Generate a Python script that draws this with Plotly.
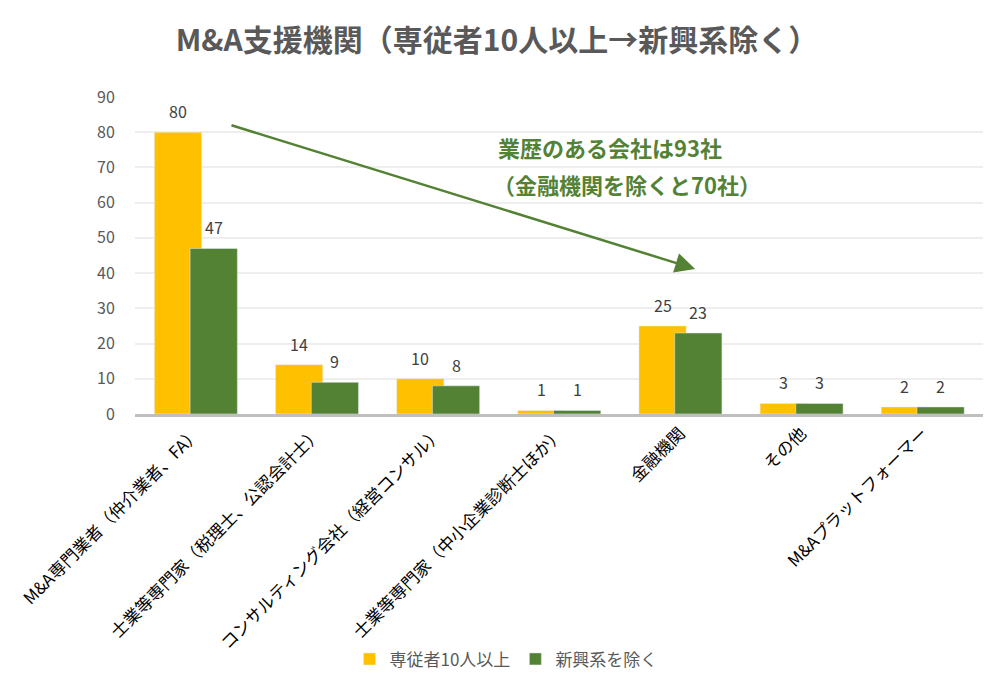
import plotly.graph_objects as go

categories = ["M&A専門業者（仲介業者、FA）", "士業等専門家（税理士、公認会計士）",
              "コンサルティング会社（経営コンサル）", "士業等専門家（中小企業診断士ほか）",
              "金融機関", "その他", "M&Aプラットフォーマー"]
series_names = ["専従者10人以上", "新興系を除く"]
vals_all = [80, 14, 10, 1, 25, 3, 2]
vals_excl = [47, 9, 8, 1, 23, 3, 2]
y_ticks = [0, 10, 20, 30, 40, 50, 60, 70, 80, 90]

title_text = "M&A支援機関（専従者10人以上→新興系除く）"
note_line1 = "業歴のある会社は93社"
note_line2 = "（金融機関を除くと70社）"

FONT = "Noto Sans CJK JP"
ORANGE = "#FFC000"
GREEN = "#548235"

W, H = 991, 681
L, R, T, B = 127, 16, 89, 273
plot_w = W - L - R
cat_px = plot_w / len(categories)

BAR_W = 0.39
OFF_A = -0.34
OFF_B = -0.045

fig = go.Figure()
fig.add_trace(go.Bar(x=categories, y=vals_all, name=series_names[0], marker_color=ORANGE,
                     width=BAR_W, offset=OFF_A))
fig.add_trace(go.Bar(x=categories, y=vals_excl, name=series_names[1], marker_color=GREEN,
                     width=BAR_W, offset=OFF_B))

# data labels
for vals, off in ((vals_all, OFF_A), (vals_excl, OFF_B)):
    for c, v in zip(categories, vals):
        fig.add_annotation(x=c, y=v, xref="x", yref="y", text=str(v), showarrow=False,
                           xanchor="center", yanchor="bottom", yshift=7,
                           xshift=(off + BAR_W / 2) * cat_px,
                           font=dict(size=16, color="#404040", family=FONT))

fig.update_layout(
    barmode="overlay",
    width=W, height=H,
    margin=dict(l=L, r=R, t=T, b=B),
    paper_bgcolor="white", plot_bgcolor="white",
    font=dict(family=FONT, color="#595959"),
    title=dict(text=title_text, x=(497 - 8) / W, xanchor="center", y=1 - 32 / H, yanchor="middle",
               font=dict(size=30, color="#595959", family=FONT, weight="bold")),
    showlegend=True,
    legend=dict(orientation="h", x=0.4375, xanchor="center", y=-0.774, yanchor="middle",
                font=dict(size=17, color="#595959", family=FONT),
                bgcolor="rgba(0,0,0,0)",
                itemwidth=30, traceorder="normal"),
    xaxis=dict(tickangle=-45, tickfont=dict(size=17, color="#000000", family=FONT),
               showline=True, linecolor="#BFBFBF", linewidth=2.5, ticks="",
               range=[-0.5, 6.5], automargin=False),
    yaxis=dict(range=[0, 90], tickvals=y_ticks, showgrid=True, gridcolor="#EEEEEE",
               gridwidth=1.5, zeroline=False, showline=False, ticks="outside",
               tickcolor="white", ticklen=16, automargin=False,
               tickfont=dict(size=16, color="#595959", family=FONT)),
)

# arrow
fig.add_annotation(x=4.124, y=41.2, ax=0.284, ay=82.1, xref="x", yref="y",
                   axref="x", ayref="y", text="", showarrow=True,
                   arrowhead=2, arrowsize=1.6, arrowwidth=2.5, arrowcolor=GREEN)

fig.add_annotation(x=0.560, y=0.843, xref="paper", yref="paper",
                   text=note_line1, showarrow=False, xanchor="center", yanchor="middle",
                   font=dict(size=22, color=GREEN, family=FONT, weight="bold"))
fig.add_annotation(x=0.580, y=0.724, xref="paper", yref="paper",
                   text=note_line2, showarrow=False, xanchor="center", yanchor="middle",
                   font=dict(size=22, color=GREEN, family=FONT, weight="bold"))

fig.write_html("out.html")
